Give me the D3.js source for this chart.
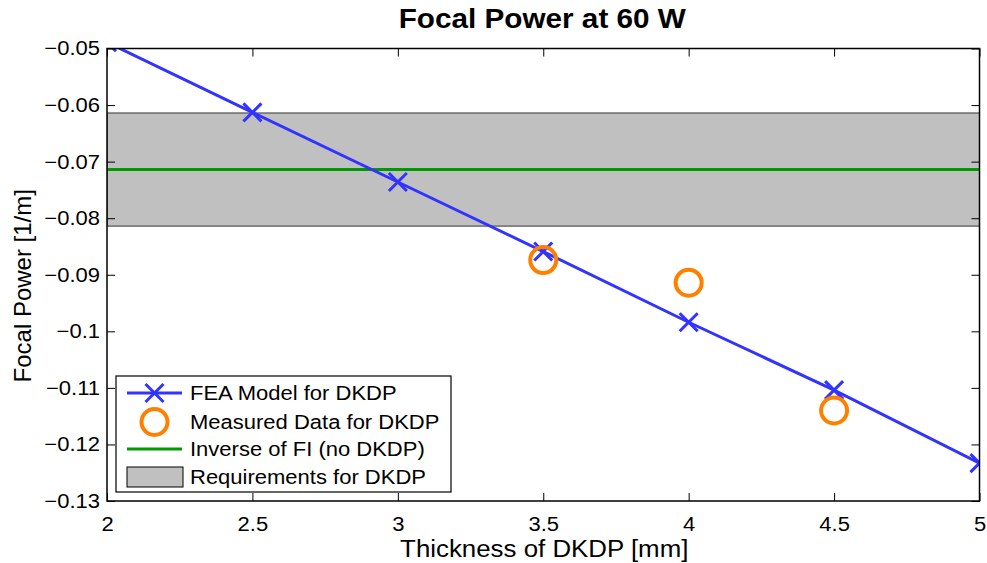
<!DOCTYPE html>
<html>
<head>
<meta charset="utf-8">
<script src="https://cdn.jsdelivr.net/npm/d3@7"></script>
<style>
  body { margin: 0; background: #fff; }
  text { font-family: "Liberation Sans", Arial, sans-serif; }
  .axis path { display: none; }
  .axis text { font-size: 20px; fill: #000; }
</style>
</head>
<body>
<div id="chart"></div>
<script>
// data
var thickness = [2.0, 2.5, 3.0, 3.5, 4.0, 4.5, 5.0];
var feaPower = [-0.0489, -0.0613, -0.0736, -0.0859, -0.0984, -0.1104, -0.1233];
var measThickness = [3.5, 4.0, 4.5];
var measPower = [-0.0874, -0.0914, -0.1140];
var inverseFI = -0.0714;
var reqLow = -0.0814, reqHigh = -0.0614;
var xTicks = [2, 2.5, 3, 3.5, 4, 4.5, 5];
var yTicks = [-0.05, -0.06, -0.07, -0.08, -0.09, -0.1, -0.11, -0.12, -0.13];
var legendLabels = ["FEA Model for DKDP", "Measured Data for DKDP", "Inverse of FI (no DKDP)", "Requirements for DKDP"];

var W = 987, H = 563;
var margin = {top: 48.5, right: 7.5, bottom: 62, left: 107};
var width = W - margin.left - margin.right,
    height = H - margin.top - margin.bottom;

var blue = "#3333ff", orange = "#ff8000", green = "#009900", gray = "#c0c0c0";

var svg = d3.select("#chart").append("svg").attr("width", W).attr("height", H);

var x = d3.scaleLinear().domain([2, 5]).range([0, width]);
var y = d3.scaleLinear().domain([-0.13, -0.05]).range([height, 0]);

svg.append("defs").append("clipPath").attr("id", "clip")
  .append("rect").attr("width", width).attr("height", height);

var g = svg.append("g").attr("transform", "translate(" + margin.left + "," + margin.top + ")");
var plot = g.append("g").attr("clip-path", "url(#clip)");

// requirement band
plot.append("rect")
  .attr("x", 0).attr("width", width)
  .attr("y", y(reqHigh)).attr("height", y(reqLow) - y(reqHigh))
  .attr("fill", gray).attr("stroke", "#333").attr("stroke-width", 1);

// inverse of FI
plot.append("line")
  .attr("x1", 0).attr("x2", width)
  .attr("y1", y(inverseFI)).attr("y2", y(inverseFI))
  .attr("stroke", green).attr("stroke-width", 3);

// FEA model line + crosses
var fea = thickness.map(function(t, i) { return [t, feaPower[i]]; });
plot.append("path")
  .datum(fea)
  .attr("fill", "none").attr("stroke", blue).attr("stroke-width", 3)
  .attr("d", d3.line().x(function(d) { return x(d[0]); }).y(function(d) { return y(d[1]); }));

var cs = 9;
plot.selectAll(".cross")
  .data(fea).enter()
  .append("path")
  .attr("class", "cross")
  .attr("transform", function(d) { return "translate(" + x(d[0]) + "," + y(d[1]) + ")"; })
  .attr("d", "M" + (-cs) + "," + (-cs) + "L" + cs + "," + cs + "M" + (-cs) + "," + cs + "L" + cs + "," + (-cs))
  .attr("stroke", blue).attr("stroke-width", 3).attr("fill", "none");

// measured data
plot.selectAll(".meas")
  .data(measThickness).enter()
  .append("circle")
  .attr("class", "meas")
  .attr("cx", function(d) { return x(d); })
  .attr("cy", function(d, i) { return y(measPower[i]); })
  .attr("r", 13)
  .attr("fill", "none").attr("stroke", orange).attr("stroke-width", 4);

// axes (matlab style: ticks inside, mirrored)
var tl = 8;
g.append("g").attr("class", "axis")
  .attr("transform", "translate(0," + height + ")")
  .call(d3.axisBottom(x).tickValues(xTicks).tickSize(-tl).tickPadding(16).tickFormat(d3.format("")));
g.append("g").attr("class", "axis")
  .call(d3.axisTop(x).tickValues(xTicks).tickSize(-tl).tickFormat(""));
g.append("g").attr("class", "axis")
  .call(d3.axisLeft(y).tickValues(yTicks).tickSize(-tl).tickPadding(7)
    .tickFormat(function(d) { return d3.format("")(+d.toFixed(2)).replace("-", "\u2212"); }));
g.append("g").attr("class", "axis")
  .attr("transform", "translate(" + width + ",0)")
  .call(d3.axisRight(y).tickValues(yTicks).tickSize(-tl).tickFormat(""));
g.selectAll(".axis .tick line").attr("stroke", "#000");

g.append("rect").attr("width", width).attr("height", height)
  .attr("fill", "none").attr("stroke", "#000").attr("stroke-width", 1.5);

// legend
var lg = g.append("g").attr("transform", "translate(" + (116 - margin.left) + "," + (376 - margin.top) + ")");
lg.append("rect").attr("width", 335).attr("height", 116)
  .attr("fill", "#fff").attr("stroke", "#000").attr("stroke-width", 1.2);
var rowY = [17, 46, 73, 101];
lg.selectAll(".ltext").data(legendLabels).enter()
  .append("text").attr("class", "ltext stretch")
  .attr("x", 74).attr("y", function(d, i) { return rowY[i]; })
  .attr("dy", "0.35em").attr("font-size", 20).text(function(d) { return d; });
lg.append("line").attr("x1", 11).attr("x2", 66).attr("y1", rowY[0]).attr("y2", rowY[0])
  .attr("stroke", blue).attr("stroke-width", 3);
lg.append("path").attr("transform", "translate(38.5," + rowY[0] + ")")
  .attr("d", "M-9,-9L9,9M-9,9L9,-9").attr("stroke", blue).attr("stroke-width", 3);
lg.append("circle").attr("cx", 38.5).attr("cy", rowY[1]).attr("r", 13)
  .attr("fill", "none").attr("stroke", orange).attr("stroke-width", 4);
lg.append("line").attr("x1", 11).attr("x2", 66).attr("y1", rowY[2]).attr("y2", rowY[2])
  .attr("stroke", green).attr("stroke-width", 3);
lg.append("rect").attr("x", 11).attr("y", rowY[3] - 10).attr("width", 56).attr("height", 20)
  .attr("fill", gray).attr("stroke", "#000").attr("stroke-width", 1);

// titles
svg.append("text").attr("class", "stretch")
  .attr("x", margin.left + width / 2 - 1).attr("y", 28)
  .attr("text-anchor", "middle").attr("font-size", 27).attr("font-weight", "bold")
  .text("Focal Power at 60 W");
svg.append("text").attr("class", "stretch")
  .attr("x", margin.left + width / 2 + 1).attr("y", 557)
  .attr("text-anchor", "middle").attr("font-size", 23.5)
  .text("Thickness of DKDP [mm]");
svg.append("text")
  .attr("transform", "translate(31," + (margin.top + height / 2 + 11) + ") rotate(-90)")
  .attr("text-anchor", "middle").attr("font-size", 24)
  .text("Focal Power [1/m]");

// the reference picture is a little wider than tall, so horizontal text runs ~10% longer
g.selectAll(".axis text").classed("stretch", true);
svg.selectAll(".stretch").each(function() {
  this.setAttribute("textLength", this.getComputedTextLength() * 1.1);
  this.setAttribute("lengthAdjust", "spacingAndGlyphs");
});
</script>
</body>
</html>
